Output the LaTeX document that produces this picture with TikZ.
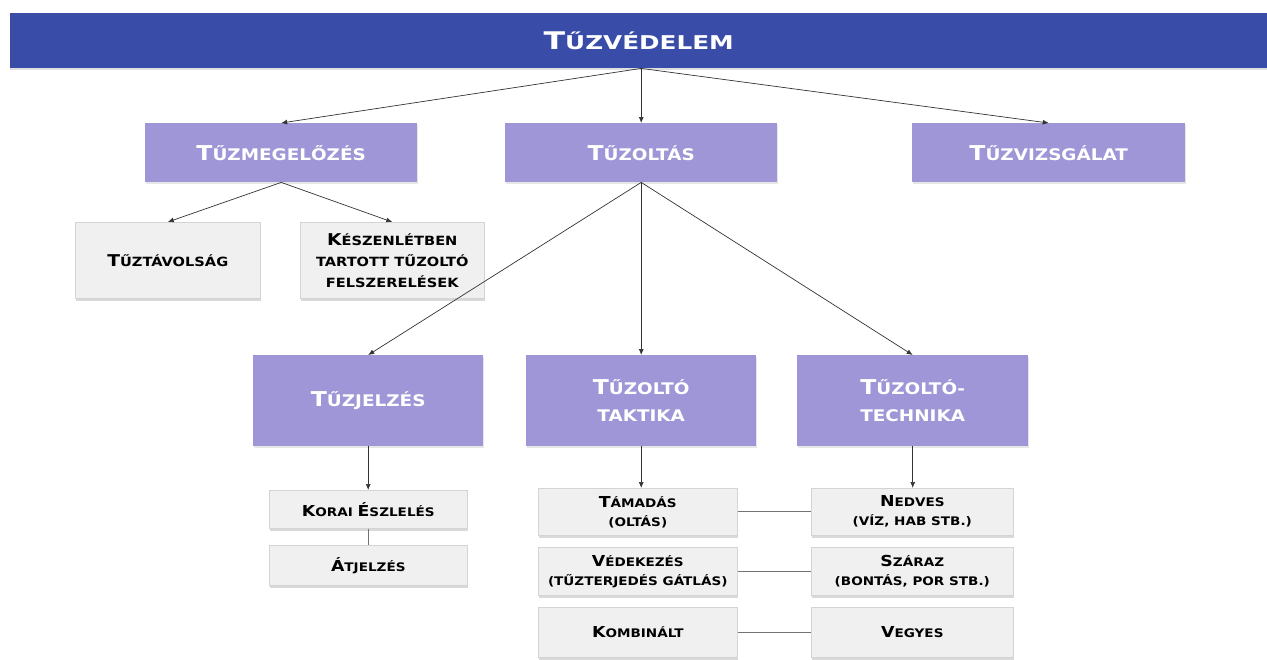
\documentclass[tikz,border=0pt]{standalone}
\usepackage{fontspec}
\usepackage{graphicx}
\setmainfont{DejaVu Sans}[FakeStretch=1.15]
\newfontfamily\titlefont{DejaVu Sans}[FakeStretch=1.3]
\usetikzlibrary{arrows.meta,shadows}
\definecolor{barblue}{RGB}{56,76,168}
\definecolor{lav}{RGB}{158,150,215}
\definecolor{boxgray}{RGB}{240,240,240}
\definecolor{boxedge}{RGB}{212,212,212}
\newcommand\Bg[1]{\scalebox{1.28}{#1}}
\tikzset{
  base/.style={anchor=north west, inner sep=0pt, align=center},
  lvl/.style={base, fill=lav, text=white,
    font=\bfseries\fontsize{16}{27}\selectfont,
    drop shadow={shadow xshift=1pt, shadow yshift=-2pt, opacity=0.2}},
  gbox/.style={base, fill=boxgray, draw=boxedge, line width=0.6pt, text=black,
    font=\bfseries\fontsize{12.7}{21}\selectfont,
    drop shadow={shadow xshift=1pt, shadow yshift=-2.5pt, opacity=0.3}},
  sbox/.style={gbox, font=\bfseries\fontsize{11.8}{19}\selectfont},
  arr/.style={-{Latex[length=6pt,width=5pt]}, line width=0.7pt, draw=black!80},
  ln/.style={line width=0.7pt, draw=black!55}
}
\begin{document}
\begin{tikzpicture}[x=1pt,y=-1pt]
\useasboundingbox (0,0) rectangle (1267,659);
% top bar
\node[base, fill=barblue, text=white, minimum width=1257pt, minimum height=55pt,
  font=\titlefont\bfseries\fontsize{19}{22}\selectfont,
  drop shadow={shadow xshift=0pt, shadow yshift=-2pt, opacity=0.25}] (top) at (10,13) {\Bg{T}ŰZVÉDELEM};
% level 2
\node[lvl, minimum width=272pt, minimum height=59pt] (m) at (145,123) {\Bg{T}ŰZMEGELŐZÉS};
\node[lvl, minimum width=272pt, minimum height=59pt] (o) at (505,123) {\Bg{T}ŰZOLTÁS};
\node[lvl, minimum width=273pt, minimum height=59pt] (v) at (912,123) {\Bg{T}ŰZVIZSGÁLAT};
% level 3
\node[gbox, minimum width=185pt, minimum height=76pt] (tav) at (75,222) {\Bg{T}ŰZTÁVOLSÁG};
\node[gbox, minimum width=184pt, minimum height=76pt] (kesz) at (300,222) {\Bg{K}ÉSZENLÉTBEN\\TARTOTT TŰZOLTÓ\\FELSZERELÉSEK};
% level 4
\node[lvl, minimum width=230pt, minimum height=91pt] (jel) at (253,355) {\Bg{T}ŰZJELZÉS};
\node[lvl, minimum width=230pt, minimum height=91pt] (tak) at (526,355) {\Bg{T}ŰZOLTÓ\\TAKTIKA};
\node[lvl, minimum width=231pt, minimum height=91pt] (tech) at (797,355) {\Bg{T}ŰZOLTÓ-\\TECHNIKA};
% level 5
\node[sbox, minimum width=198pt, minimum height=38pt] (kor) at (269,490) {\Bg{K}ORAI \Bg{É}SZLELÉS};
\node[sbox, minimum width=198pt, minimum height=40pt] (atj) at (269,545) {\Bg{Á}TJELZÉS};
\node[sbox, minimum width=199pt, minimum height=47pt] (tam) at (538,488) {\Bg{T}ÁMADÁS\\(OLTÁS)};
\node[sbox, minimum width=199pt, minimum height=48pt] (ved) at (538,547) {\Bg{V}ÉDEKEZÉS\\(TŰZTERJEDÉS GÁTLÁS)};
\node[sbox, minimum width=199pt, minimum height=50pt] (kom) at (538,607) {\Bg{K}OMBINÁLT};
\node[sbox, minimum width=202pt, minimum height=47pt] (ned) at (811,488) {\Bg{N}EDVES\\(VÍZ, HAB STB.)};
\node[sbox, minimum width=202pt, minimum height=48pt] (sza) at (811,547) {\Bg{S}ZÁRAZ\\(BONTÁS, POR STB.)};
\node[sbox, minimum width=202pt, minimum height=50pt] (veg) at (811,607) {\Bg{V}EGYES};
% connectors
\coordinate (tp) at (o.north |- top.south);
\draw[arr] (tp) -- (m.north);
\draw[arr] (tp) -- (o.north);
\draw[arr] (tp) -- (v.north);
\draw[arr] (m.south) -- (tav.north);
\draw[arr] (m.south) -- (kesz.north);
\draw[arr] (o.south) -- (jel.north);
\draw[arr] (o.south) -- (tak.north);
\draw[arr] (o.south) -- (tech.north);
\draw[arr] (jel.south) -- (jel.south |- kor.north);
\draw[ln] (kor.south) -- (atj.north);
\draw[arr] (tak.south) -- (tak.south |- tam.north);
\draw[arr] (tech.south) -- (tech.south |- ned.north);
\draw[ln] (tam.east) -- (ned.west);
\draw[ln] (ved.east) -- (sza.west);
\draw[ln] (kom.east) -- (veg.west);
\end{tikzpicture}
\end{document}
